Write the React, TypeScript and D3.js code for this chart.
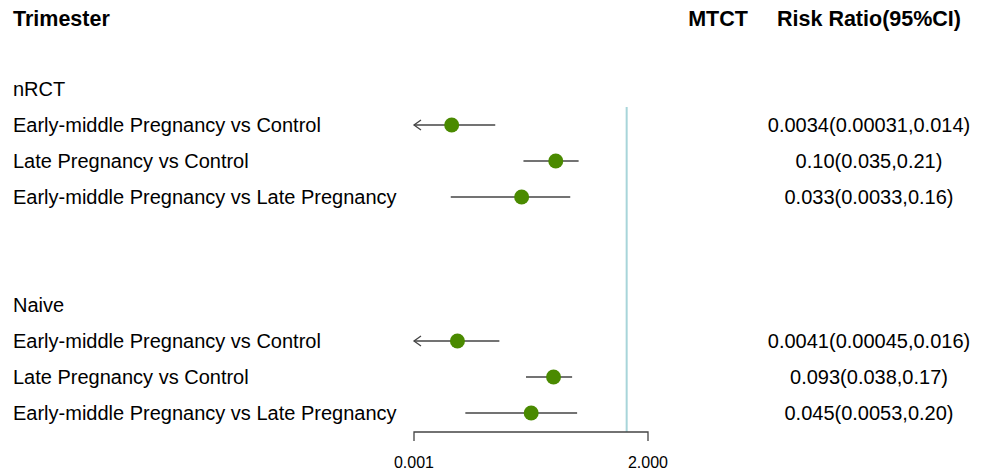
import React from "react";
import * as d3 from "d3";

// Comparison labels, grouped by study type
const groups = ["nRCT", "Naive"];
const comparisons = [
  "Early-middle Pregnancy vs Control",
  "Late Pregnancy vs Control",
  "Early-middle Pregnancy vs Late Pregnancy",
];

// Risk ratios with 95% confidence bounds, one array per group
const nrctRR = [0.0034, 0.1, 0.033];
const nrctLower = [0.00031, 0.035, 0.0033];
const nrctUpper = [0.014, 0.21, 0.16];
const nrctText = ["0.0034(0.00031,0.014)", "0.10(0.035,0.21)", "0.033(0.0033,0.16)"];

const naiveRR = [0.0041, 0.093, 0.045];
const naiveLower = [0.00045, 0.038, 0.0053];
const naiveUpper = [0.016, 0.17, 0.2];
const naiveText = ["0.0041(0.00045,0.016)", "0.093(0.038,0.17)", "0.045(0.0053,0.20)"];

const xTicks = [0.001, 2];
const refValue = 1;

const W = 984;
const H = 471;
const FONT = "'Liberation Sans', Arial, Helvetica, sans-serif";

type Row =
  | { kind: "group"; label: string }
  | { kind: "blank" }
  | { kind: "est"; label: string; rr: number; lo: number; hi: number; text: string };

export default function App() {
  const rows: Row[] = [];
  const groupData = [
    { rr: nrctRR, lo: nrctLower, hi: nrctUpper, text: nrctText },
    { rr: naiveRR, lo: naiveLower, hi: naiveUpper, text: naiveText },
  ];
  groups.forEach((g, gi) => {
    if (gi > 0) {
      rows.push({ kind: "blank" });
      rows.push({ kind: "blank" });
    }
    rows.push({ kind: "group", label: g });
    comparisons.forEach((c, i) => {
      const d = groupData[gi];
      rows.push({ kind: "est", label: c, rr: d.rr[i], lo: d.lo[i], hi: d.hi[i], text: d.text[i] });
    });
  });

  const x = d3.scaleLog().domain([xTicks[0], xTicks[xTicks.length - 1]]).range([414, 648]);
  const y = d3
    .scalePoint<number>()
    .domain(rows.map((_, i) => i))
    .range([89, 89 + 36 * (rows.length - 1)]);

  const [xMin, xMax] = x.domain();
  const axisY = 432;
  const green = "#4a8a00";
  const lineColor = "#444";
  const rightCenter = 869;

  return (
    <div style={{ position: "absolute", left: 0, top: 0 }}>
      <svg width={W} height={H} style={{ display: "block", background: "#fff" }} fontFamily={FONT}>
        {/* column headers */}
        <text x={13} y={26} fontSize={21.5} fontWeight="bold" fill="#000">
          Trimester
        </text>
        <text x={718} y={26} fontSize={21.5} fontWeight="bold" textAnchor="middle" fill="#000">
          MTCT
        </text>
        <text x={rightCenter} y={26} fontSize={21.5} fontWeight="bold" textAnchor="middle" fill="#000">
          Risk Ratio(95%CI)
        </text>

        {/* reference line at RR = 1 */}
        <line x1={x(refValue)} x2={x(refValue)} y1={107} y2={axisY} stroke="#a8d5da" strokeWidth={2} />

        {rows.map((r, i) => {
          const cy = y(i)!;
          if (r.kind === "blank") return null;
          if (r.kind === "group") {
            return (
              <text key={i} x={13} y={cy + 7} fontSize={20} fill="#000">
                {r.label}
              </text>
            );
          }
          const lo = Math.max(r.lo, xMin);
          const hi = Math.min(r.hi, xMax);
          const x1 = x(lo);
          const x2 = x(hi);
          return (
            <g key={i}>
              <text x={13} y={cy + 7} fontSize={20} fill="#000">
                {r.label}
              </text>
              <line x1={x1} x2={x2} y1={cy} y2={cy} stroke={lineColor} strokeWidth={1.3} />
              {r.lo < xMin && (
                <path
                  d={`M${x1 + 7},${cy - 5} L${x1},${cy} L${x1 + 7},${cy + 5}`}
                  fill="none"
                  stroke={lineColor}
                  strokeWidth={1.3}
                />
              )}
              <circle cx={x(r.rr)} cy={cy} r={7.5} fill={green} />
              <text x={rightCenter} y={cy + 7} fontSize={20} textAnchor="middle" fill="#000">
                {r.text}
              </text>
            </g>
          );
        })}

        {/* x axis */}
        <path
          d={`M${x(xMin)},${axisY + 9} V${axisY} H${x(xMax)} V${axisY + 9}`}
          fill="none"
          stroke={lineColor}
          strokeWidth={1.3}
        />
        {xTicks.map((t) => (
          <text key={t} x={x(t)} y={468} fontSize={16} textAnchor="middle" fill="#000">
            {t.toFixed(3)}
          </text>
        ))}
      </svg>
    </div>
  );
}
